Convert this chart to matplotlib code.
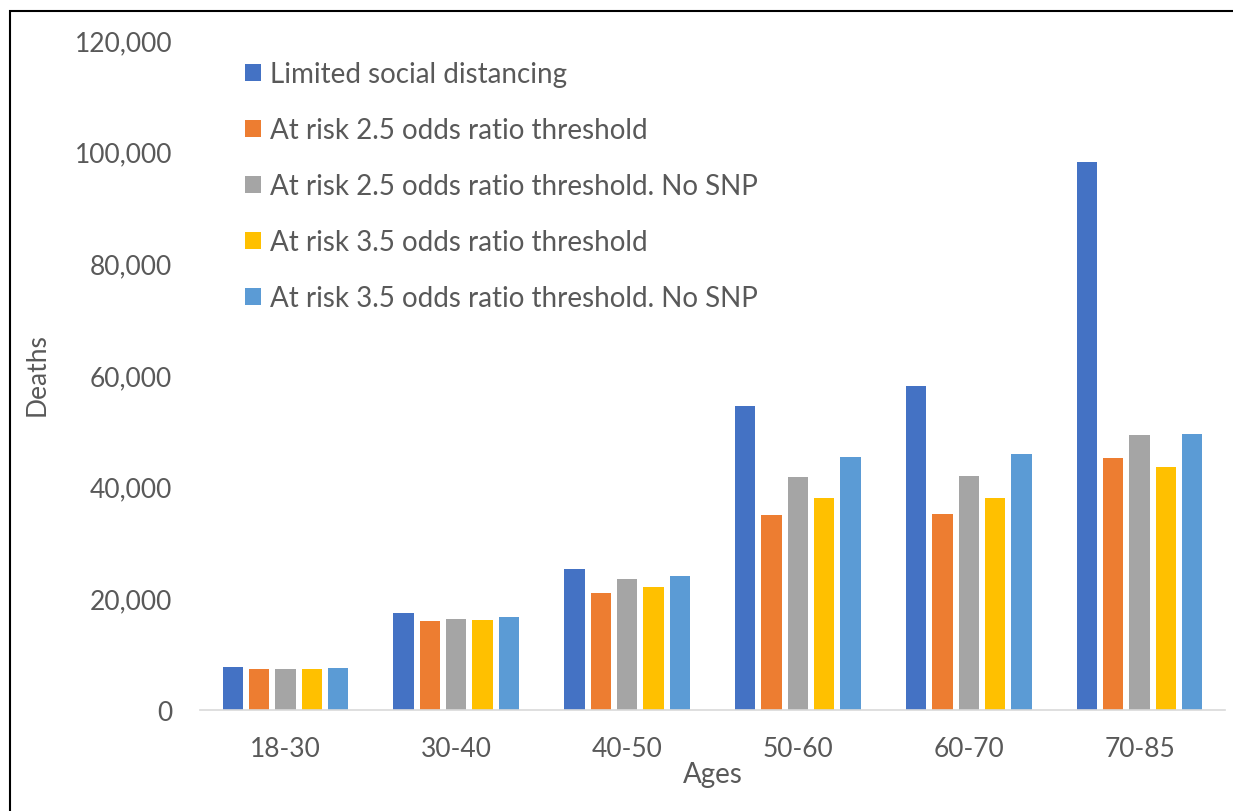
# Deaths by age group under different shielding scenarios

import numpy as np
import matplotlib.pyplot as plt
import matplotlib.patches as mpatches

plt.rcParams['font.family'] = ['Lato', 'DejaVu Sans']

ages = ['18-30', '30-40', '40-50', '50-60', '60-70', '70-85']
series_names = ['Limited social distancing',
                'At risk 2.5 odds ratio threshold',
                'At risk 2.5 odds ratio threshold. No SNP',
                'At risk 3.5 odds ratio threshold',
                'At risk 3.5 odds ratio threshold. No SNP']
limited = [7750, 17300, 25250, 54500, 58000, 98200]
risk25 = [7280, 15900, 21000, 35000, 35100, 45100]
risk25_nosnp = [7340, 16350, 23400, 41700, 41900, 49200]
risk35 = [7340, 16100, 21950, 38000, 37900, 43500]
risk35_nosnp = [7460, 16650, 24000, 45400, 45900, 49500]
colors = ['#4472C4', '#ED7D31', '#A5A5A5', '#FFC000', '#5B9BD5']

values = [limited, risk25, risk25_nosnp, risk35, risk35_nosnp]

fig = plt.figure(figsize=(12.33, 8.12), dpi=100)
ax = fig.add_axes([200/1233, 1-711/812, 1025/1233, 670/812])

x = np.arange(len(ages))
width = 0.119
step = 0.154
for i, (vals, name, c) in enumerate(zip(values, series_names, colors)):
    ax.bar(x + (i - 2) * step, vals, width, color=c, label=name)

ax.set_xlim(-0.5, len(ages) - 0.5)
ax.set_ylim(0, 120000)
ax.set_yticks(range(0, 120001, 20000))
ax.set_yticklabels(['{:,}'.format(v) for v in range(0, 120001, 20000)])
ax.set_xticks(x)
ax.set_xticklabels(ages)

gray = '#595959'
for s in ['top', 'right', 'left']:
    ax.spines[s].set_visible(False)
ax.spines['bottom'].set_color('#d9d9d9')
ax.spines['bottom'].set_linewidth(1.2)
ax.tick_params(axis='y', length=0, pad=20, labelsize=19, labelcolor=gray)
ax.tick_params(axis='x', length=0, pad=19, labelsize=19, labelcolor=gray)

ax.set_xlabel('Ages', fontsize=20, color=gray, labelpad=0)
ax.set_ylabel('Deaths', fontsize=19, color=gray, labelpad=4)
ax.yaxis.set_label_coords(50/1233, 1-375/812, transform=fig.transFigure)

leg = ax.legend(loc='upper left', bbox_to_anchor=(245/1233, 1-62/812),
                bbox_transform=fig.transFigure, frameon=False, fontsize=20,
                handlelength=0.58, handleheight=0.58, handletextpad=0.32,
                labelspacing=1.08, borderpad=0, borderaxespad=0)
for t in leg.get_texts():
    t.set_color(gray)

# figure border
fig.patches.append(mpatches.Rectangle((10/1233, -0.1), 1.2, 1 - 12/812 + 0.1,
                                      transform=fig.transFigure, fill=False,
                                      edgecolor='black', linewidth=1.5))

plt.savefig('out.png', dpi=100)
